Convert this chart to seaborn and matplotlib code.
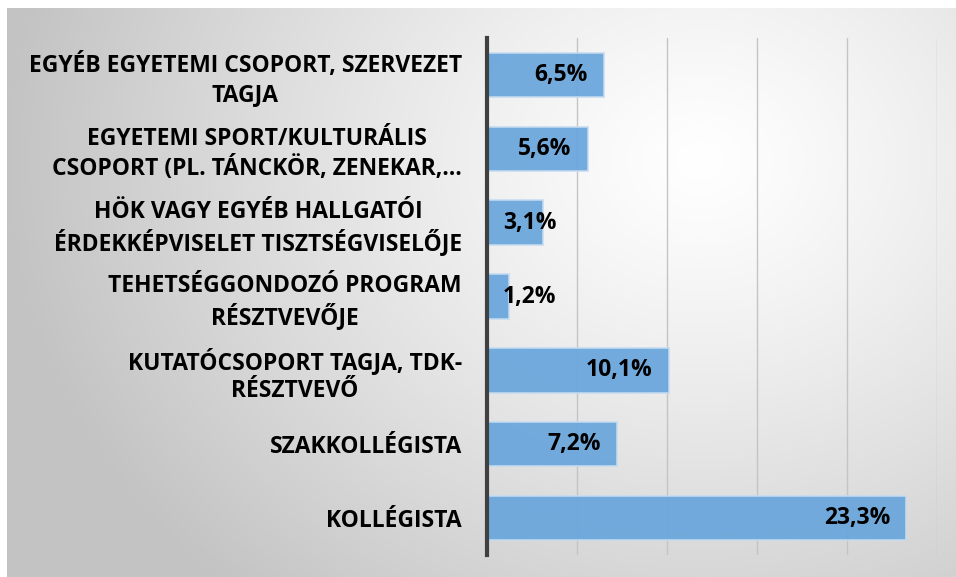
import numpy as np
import pandas as pd
import matplotlib
matplotlib.use("Agg")
import matplotlib.pyplot as plt
import seaborn as sns

categories = [
    "EGYÉB EGYETEMI CSOPORT, SZERVEZET\nTAGJA",
    "EGYETEMI SPORT/KULTURÁLIS\nCSOPORT (PL. TÁNCKÖR, ZENEKAR,…",
    "HÖK VAGY EGYÉB HALLGATÓI\nÉRDEKKÉPVISELET TISZTSÉGVISELŐJE",
    "TEHETSÉGGONDOZÓ PROGRAM\nRÉSZTVEVŐJE",
    "KUTATÓCSOPORT TAGJA, TDK-\nRÉSZTVEVŐ",
    "SZAKKOLLÉGISTA",
    "KOLLÉGISTA",
]
values = [6.5, 5.6, 3.1, 1.2, 10.1, 7.2, 23.3]
value_labels = ["6,5%", "5,6%", "3,1%", "1,2%", "10,1%", "7,2%", "23,3%"]

df = pd.DataFrame({"cat": categories, "val": values})

sns.set_theme(style="white")
plt.rcParams["font.family"] = ["Open Sans", "DejaVu Sans"]

W, H = 956, 577
fig = plt.figure(figsize=(W / 100, H / 100), dpi=100)
fig.patch.set_facecolor("white")

# background gradient panel
bg = fig.add_axes([7 / W, 0, 1 - 7 / W, 1 - 8 / H], zorder=0)
yy, xx = np.mgrid[0:H - 8, 7:W]
yy = yy + 8
d = np.sqrt((xx - 700.0) ** 2 + ((yy - 160.0) * 1.2) ** 2)
g = 255 - 60 * np.clip(d / 700.0, 0, 1) ** 1.2
img = np.dstack([g, g, g]) / 255.0
bg.imshow(img, aspect="auto", interpolation="bilinear")
bg.axis("off")

ax = fig.add_axes([487 / W, 1 - 555 / H, (937 - 487) / W, (555 - 38) / H], zorder=1)
ax.patch.set_alpha(0)
sns.barplot(data=df, y="cat", x="val", orient="h", ax=ax, width=0.6,
            color="#69A5DC", saturation=1, alpha=0.92, edgecolor="#C5DCF0",
            linewidth=1.2, zorder=3)
ax.set_xlim(0, 25)
ax.set_xticks([5, 10, 15, 20, 25])
ax.set_xticklabels([])
ax.tick_params(axis="x", length=0)
ax.tick_params(axis="y", length=0, pad=18)
ax.grid(axis="x", color="#C4C4C4", linewidth=1.0, zorder=0)
ax.set_axisbelow(True)
for s in ["top", "right", "bottom"]:
    ax.spines[s].set_visible(False)
ax.spines["left"].set_color("#404040")
ax.spines["left"].set_linewidth(3)
ax.spines["left"].set_zorder(5)
ax.set_xlabel("")
ax.set_ylabel("")
for lab in ax.get_yticklabels():
    lab.set_fontweight("bold")
    lab.set_fontsize(16.5)
    lab.set_color("#000000")
    lab.set_multialignment("center")
    lab.set_linespacing(1.25)

px_per_unit = (937 - 487) / 25.0
for i, (v, t) in enumerate(zip(values, value_labels)):
    wunits = (len(t) * 13.0) / px_per_unit
    right = v - 16 / px_per_unit
    if right - wunits < 16 / px_per_unit:
        ax.text(16 / px_per_unit, i, t, ha="left", va="center",
                fontsize=16.5, fontweight="bold", color="black", zorder=6)
    else:
        ax.text(right, i, t, ha="right", va="center",
                fontsize=16.5, fontweight="bold", color="black", zorder=6)

fig.savefig("out.png", dpi=100)
